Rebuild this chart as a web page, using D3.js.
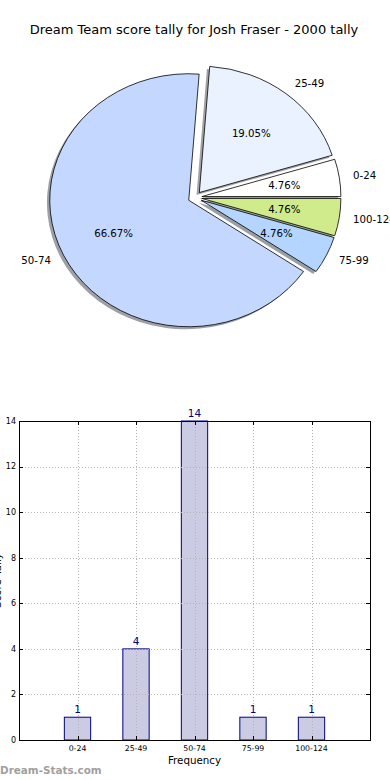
<!DOCTYPE html>
<html>
<head>
<meta charset="utf-8">
<script src="https://cdn.jsdelivr.net/npm/d3@7"></script>
<style>
  html, body { margin: 0; padding: 0; background: #fff; }
  svg { display: block; font-family: "DejaVu Sans", sans-serif; }
</style>
</head>
<body>
<div id="chart"></div>
<script>
// Score bands and how many games fell in each
const categories = ["0-24", "25-49", "50-74", "75-99", "100-124"];
const counts = [1, 4, 14, 1, 1];
const sliceColors = ["#ffffff", "#eaf1ff", "#c4d8ff", "#b3d5ff", "#cfeb8b"];
const yTicks = [0, 2, 4, 6, 8, 10, 12, 14];

const W = 390, H = 780;
const svg = d3.select("#chart").append("svg")
    .attr("width", W)
    .attr("height", H);

// Title
svg.append("text")
    .attr("x", 194)
    .attr("y", 34)
    .attr("text-anchor", "middle")
    .attr("font-size", "13px")
    .attr("fill", "#000")
    .text("Dream Team score tally for Josh Fraser - 2000 tally");

// ---- Pie (matplotlib style: starts at 3 o'clock, counter-clockwise) ----
const cx = 195, cy = 197.5, rx = 139, ry = 126.5, explode = 0.05;
const total = d3.sum(counts);

const pie = d3.pie()
    .sort(null)
    .startAngle(Math.PI / 2)
    .endAngle(Math.PI / 2 - 2 * Math.PI);

const arc = d3.arc().innerRadius(0).outerRadius(ry);
const arcs = pie(counts);

arcs.forEach(d => {
    d.mid = (d.startAngle + d.endAngle) / 2;
    d.ox = explode * rx * Math.sin(d.mid);
    d.oy = -explode * ry * Math.cos(d.mid);
});

const pieG = svg.append("g");

// shadows first, all below the wedges
pieG.append("g")
    .selectAll("path")
    .data(arcs)
    .join("path")
    .attr("transform", d => `translate(${cx + d.ox - 2.8},${cy + d.oy + 2.5}) scale(${rx / ry},1)`)
    .attr("d", arc)
    .attr("fill", (d, i) => {
        const c = d3.rgb(sliceColors[i]);
        return d3.rgb(c.r * 0.3, c.g * 0.3, c.b * 0.3).toString();
    })
    .attr("fill-opacity", 0.5);

pieG.append("g")
    .selectAll("path")
    .data(arcs)
    .join("path")
    .attr("transform", d => `translate(${cx + d.ox},${cy + d.oy}) scale(${rx / ry},1)`)
    .attr("d", arc)
    .attr("fill", (d, i) => sliceColors[i])
    .attr("stroke", "#000")
    .attr("stroke-width", 0.8)
    .attr("vector-effect", "non-scaling-stroke");

// category labels outside
pieG.append("g")
    .selectAll("text")
    .data(arcs)
    .join("text")
    .attr("x", d => cx + d.ox + 1.1 * rx * Math.sin(d.mid))
    .attr("y", d => cy + d.oy - 1.1 * ry * Math.cos(d.mid))
    .attr("dy", "0.35em")
    .attr("text-anchor", d => Math.sin(d.mid) > 0 ? "start" : "end")
    .attr("font-size", "10.2px")
    .text((d, i) => categories[i]);

// percentages inside
pieG.append("g")
    .selectAll("text")
    .data(arcs)
    .join("text")
    .attr("x", d => cx + d.ox + 0.6 * rx * Math.sin(d.mid))
    .attr("y", d => cy + d.oy - 0.6 * ry * Math.cos(d.mid))
    .attr("dy", "0.35em")
    .attr("text-anchor", "middle")
    .attr("font-size", "10.2px")
    .text(d => (d.value / total * 100).toFixed(2) + "%");

// ---- Bar chart ----
const plotL = 19, plotR = 370, plotT = 421, plotB = 740;
const x = d3.scaleLinear().domain([0, categories.length + 1]).range([plotL, plotR]);
const y = d3.scaleLinear().domain([0, 14]).range([plotB, plotT]);
const barW = 0.45;

const barG = svg.append("g");

barG.append("g")
    .selectAll("rect")
    .data(counts)
    .join("rect")
    .attr("x", (d, i) => x(i + 1 - barW / 2))
    .attr("y", d => y(d))
    .attr("width", x(barW) - x(0))
    .attr("height", d => y(0) - y(d))
    .attr("fill", "#cbcbe3")
    .attr("stroke", "#000080")
    .attr("stroke-width", 1);

// dotted grid drawn over the bars
const grid = barG.append("g")
    .attr("stroke", "#b4b4b4")
    .attr("stroke-width", 1)
    .attr("stroke-dasharray", "1,2");
grid.selectAll("line.v")
    .data(categories)
    .join("line")
    .attr("class", "v")
    .attr("x1", (d, i) => Math.round(x(i + 1)) + 0.5)
    .attr("x2", (d, i) => Math.round(x(i + 1)) + 0.5)
    .attr("y1", plotT)
    .attr("y2", plotB);
grid.selectAll("line.h")
    .data(yTicks.slice(1, -1))
    .join("line")
    .attr("class", "h")
    .attr("x1", plotL)
    .attr("x2", plotR)
    .attr("y1", d => Math.round(y(d)) + 0.5)
    .attr("y2", d => Math.round(y(d)) + 0.5);

// inward ticks on all four sides
const ticks = barG.append("g").attr("stroke", "#000").attr("stroke-width", 1);
yTicks.forEach(t => {
    const yy = Math.round(y(t)) + 0.5;
    ticks.append("line").attr("x1", plotL).attr("x2", plotL + 4).attr("y1", yy).attr("y2", yy);
    ticks.append("line").attr("x1", plotR).attr("x2", plotR - 4).attr("y1", yy).attr("y2", yy);
});
categories.forEach((c, i) => {
    const xx = Math.round(x(i + 1)) + 0.5;
    ticks.append("line").attr("x1", xx).attr("x2", xx).attr("y1", plotB).attr("y2", plotB - 4);
    ticks.append("line").attr("x1", xx).attr("x2", xx).attr("y1", plotT).attr("y2", plotT + 4);
});

// frame
barG.append("rect")
    .attr("x", plotL + 0.5)
    .attr("y", plotT + 0.5)
    .attr("width", plotR - plotL)
    .attr("height", plotB - plotT)
    .attr("fill", "none")
    .attr("stroke", "#000")
    .attr("stroke-width", 1);

// value labels
barG.append("g")
    .selectAll("text")
    .data(counts)
    .join("text")
    .attr("x", (d, i) => x(i + 1))
    .attr("y", d => y(d) - 4)
    .attr("text-anchor", "middle")
    .attr("font-size", "10.5px")
    .attr("fill", "#000080")
    .text(d => d);

// tick labels
barG.append("g")
    .selectAll("text")
    .data(yTicks)
    .join("text")
    .attr("x", plotL - 3)
    .attr("y", d => y(d))
    .attr("dy", "0.35em")
    .attr("text-anchor", "end")
    .attr("font-size", "8px")
    .text(d => d);

barG.append("g")
    .selectAll("text")
    .data(categories)
    .join("text")
    .attr("x", (d, i) => x(i + 1))
    .attr("y", 751)
    .attr("text-anchor", "middle")
    .attr("font-size", "7.8px")
    .text(d => d);

// axis labels
svg.append("text")
    .attr("x", (plotL + plotR) / 2)
    .attr("y", 764)
    .attr("text-anchor", "middle")
    .attr("font-size", "10.3px")
    .text("Frequency");

// y label sits mostly past the left edge, as in the original
svg.append("text")
    .attr("transform", `translate(1,${(plotT + plotB) / 2}) rotate(-90)`)
    .attr("text-anchor", "middle")
    .attr("font-size", "10.3px")
    .text("Score Tally");

// watermark
svg.append("text")
    .attr("x", 0)
    .attr("y", 774)
    .attr("font-size", "10.4px")
    .attr("font-weight", "bold")
    .attr("fill", "#a0a0a0")
    .text("Dream-Stats.com");
</script>
</body>
</html>
